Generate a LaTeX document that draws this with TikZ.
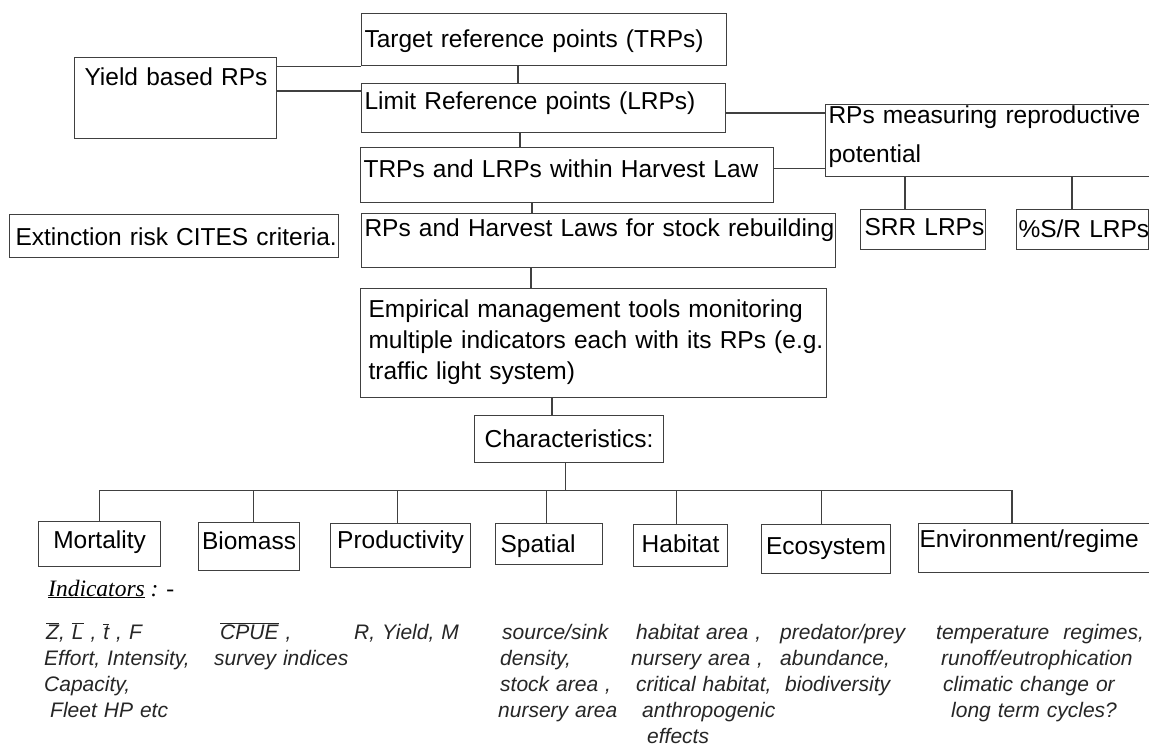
\documentclass[tikz,border=0pt]{standalone}
\usepackage{fontspec}
\setmainfont{Liberation Sans}
\newfontfamily\serifind{Liberation Serif}
\usepackage{tikz}
\usetikzlibrary{calc}
\newcommand{\ovl}[1]{$\overline{\mbox{#1}}$}
\tikzset{
  box/.style={draw=black!75, line width=1.1pt, anchor=north west, inner xsep=3pt, inner ysep=0pt, align=left, font=\fontsize{24.5}{31}\selectfont},
  cbox/.style={box, align=center},
  link/.style={draw=black!75, line width=1.1pt},
  indhead/.style={anchor=base west, inner sep=0pt, font=\serifind\itshape\fontsize{23.5}{28}\selectfont},
  ind/.style={anchor=base west, inner sep=0pt, align=left, text width=230pt, text=black!85, font=\itshape\fontsize{21}{26}\selectfont}
}

\begin{document}
\begin{tikzpicture}[x=1pt, y=-1pt]
    \useasboundingbox (0,0) rectangle (1149,747);
    \clip (0,0) rectangle (1149,747);
    \node[box, text width=359pt, text height=34pt, text depth=18pt] (trp) at (361,13) {\mbox{Target reference points (TRPs)}};
    \node[box, inner xsep=10pt, text width=182pt, text height=28pt, text depth=53pt] (yield) at (74,57) {\mbox{Yield based RPs}};
    \node[box, text width=358pt, text height=26pt, text depth=23pt] (lrp) at (361,83) {\mbox{Limit Reference points (LRPs)}};
    \node[box, text width=394pt, text height=19pt, text depth=53pt] (rpm) at (825,104) {\mbox{RPs measuring reproductive}\\[8pt]\mbox{potential}};
    \node[box, text width=407pt, text height=30pt, text depth=25pt] (trpsh) at (360,147) {\mbox{TRPs and LRPs within Harvest Law}};
    \node[box, inner xsep=6pt, text width=317pt, text height=31pt, text depth=12pt] (ext) at (9,214) {\mbox{Extinction risk CITES criteria.}};
    \node[box, text width=468pt, text height=23pt, text depth=31pt] (rpshl) at (361,213) {\mbox{RPs and Harvest Laws for stock rebuilding}};
    \node[box, inner xsep=4pt, text width=117pt, text height=26pt, text depth=14pt] (srr) at (860,209) {\mbox{SRR LRPs}};
    \node[box, inner xsep=2pt, text width=128pt, text height=28pt, text depth=12pt] (psr) at (1016,209) {\mbox{\%S/R LRPs}};
    \node[box, inner xsep=8pt, text width=450pt, text height=29pt, text depth=80pt] (emp) at (360,288) {\mbox{Empirical management tools monitoring}\\\mbox{multiple indicators each with its RPs (e.g.}\\\mbox{traffic light system)}};
    \node[cbox, text width=183pt, text height=32pt, text depth=15pt] (char) at (474,415) {\mbox{Characteristics:}};

    \node[cbox, text width=116pt, text height=27pt, text depth=18pt] (mort) at (38,521) {Mortality};
    \node[cbox, text width=95pt, text height=27pt, text depth=21pt] (bio) at (198,522) {Biomass};
    \node[cbox, text width=134pt, text height=25pt, text depth=19pt] (prod) at (330,523) {Productivity};
    \node[box, inner xsep=5pt, text width=97pt, text height=29pt, text depth=12pt] (spat) at (495,523) {Spatial};
    \node[cbox, text width=88pt, text height=28pt, text depth=14pt] (hab) at (633,524) {Habitat};
    \node[cbox, text width=123pt, text height=30pt, text depth=19pt] (eco) at (761,524) {Ecosystem};
    \node[box, inner xsep=1pt, text width=298pt, text height=24pt, text depth=25pt] (env) at (918,523) {\mbox{Environment/regime}};

    \draw[link] (trp.south west) -- (trp.south west -| yield.east);
    \coordinate (ylrp) at ([yshift=-8pt]lrp.north west);
    \draw[link] (ylrp) -- (ylrp -| yield.east);
    \coordinate (tl) at ([xshift=157pt]trp.south west);
    \draw[link] (tl) -- (tl |- lrp.north);
    \coordinate (lt) at ([xshift=159pt]lrp.south west);
    \draw[link] (lt) -- (lt |- trpsh.north);
    \coordinate (rl) at ([yshift=-9pt]rpm.north west);
    \draw[link] (rl) -- (rl -| lrp.east);
    \coordinate (rt) at ([yshift=9pt]rpm.south west);
    \draw[link] (rt) -- (rt -| trpsh.east);
    \coordinate (th) at ([xshift=172pt]trpsh.south west);
    \draw[link] (th) -- (th |- rpshl.north);
    \coordinate (he) at ([xshift=170pt]rpshl.south west);
    \draw[link] (he) -- (he |- emp.north);
    \coordinate (ec) at ([xshift=192pt]emp.south west);
    \draw[link] (ec) -- (ec |- char.north);
    \coordinate (rs) at ([xshift=45pt]srr.north west);
    \draw[link] (rs) -- (rs |- rpm.south);
    \coordinate (rp) at ([xshift=56pt]psr.north west);
    \draw[link] (rp) -- (rp |- rpm.south);

    \coordinate (bus) at ([xshift=-4pt,yshift=-27pt]char.south);
    \draw[link] ([xshift=-4pt]char.south) -- (bus);
    \coordinate (envtop) at ([xshift=94pt]env.north west);
    \draw[link] (mort.north) |- (bus) -| (envtop);
    \coordinate (biotop) at ([xshift=4pt]bio.north);
    \draw[link] (biotop) -- (biotop |- bus);
    \coordinate (prodtop) at ([xshift=-3pt]prod.north);
    \draw[link] (prodtop) -- (prodtop |- bus);
    \coordinate (spattop) at ([xshift=-3pt]spat.north);
    \draw[link] (spattop) -- (spattop |- bus);
    \coordinate (habtop) at ([xshift=-4pt]hab.north);
    \draw[link] (habtop) -- (habtop |- bus);
    \coordinate (ecotop) at ([xshift=-5pt]eco.north);
    \draw[link] (ecotop) -- (ecotop |- bus);

    \node[indhead] (indhd) at (48,596) {\underline{Indicators} : -};
    \node[ind] (imort) at (44,639) {\hspace*{2pt}\ovl{Z}, \ovl{L} , \ovl{t} , F\\Effort, Intensity,\\Capacity,\\\hspace*{6pt}Fleet HP etc};
    \node[ind] (icpue) at (214,639) {\hspace*{6pt}\ovl{CPUE} ,\\survey indices};
    \node[ind] (iprod) at (354,639) {R, Yield, M};
    \node[ind] (ispat) at (498,639) {\hspace*{4pt}source/sink\\\hspace*{2pt}density,\\\hspace*{2pt}stock area ,\\nursery area};
    \node[ind] (ihab) at (631,639) {\hspace*{5pt}habitat area ,\\nursery area ,\\\hspace*{5pt}critical habitat,\\\hspace*{11pt}anthropogenic\\\hspace*{16pt}effects};
    \node[ind] (ieco) at (780,639) {predator/prey\\abundance,\\\hspace*{5pt}biodiversity};
    \node[ind] (ienv) at (936,639) {temperature\ \ regimes,\\\hspace*{5pt}runoff/eutrophication\\\hspace*{7pt}climatic change or\\\hspace*{15pt}long term cycles?};
\end{tikzpicture}
\end{document}
